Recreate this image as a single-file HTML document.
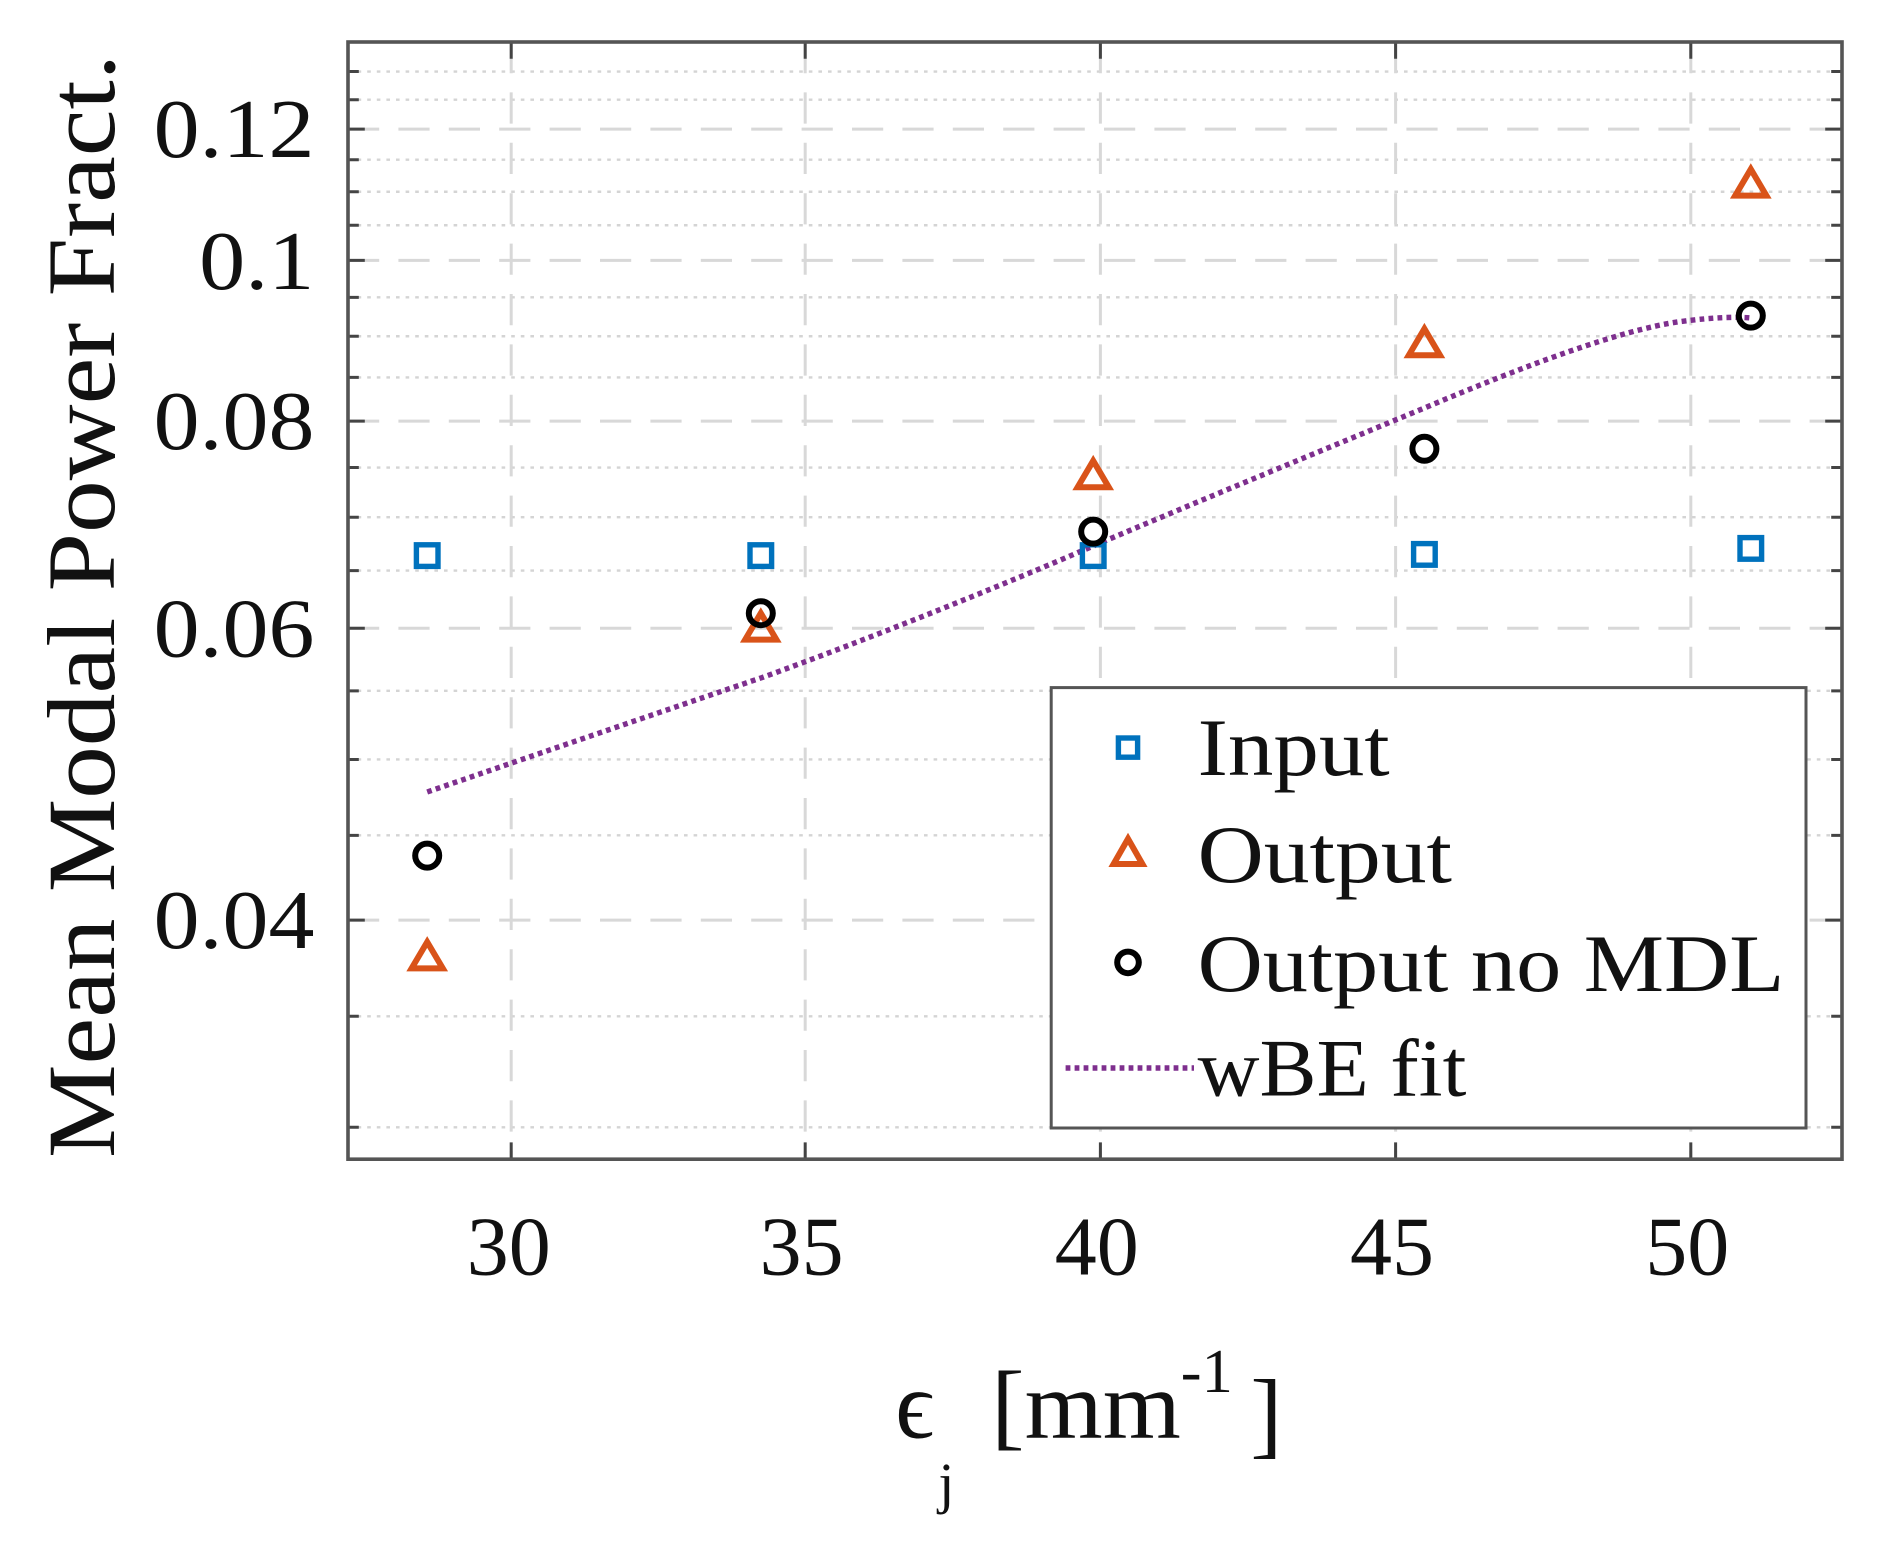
<!DOCTYPE html>
<html><head><style>html,body{margin:0;padding:0;background:#fff}svg{display:block}</style></head>
<body>
<svg width="1878" height="1551" viewBox="0 0 1565 1292.5" xmlns="http://www.w3.org/2000/svg" font-family="'Liberation Serif', serif">
<rect width="1565" height="1293" fill="#fff"/>
<g stroke="#d4d4d4" stroke-width="2" stroke-dasharray="3,5">
<line x1="290" x2="1535" y1="939.4" y2="939.4"/><line x1="290" x2="1535" y1="846.9" y2="846.9"/>
<line x1="290" x2="1535" y1="696.1" y2="696.1"/><line x1="290" x2="1535" y1="632.9" y2="632.9"/>
<line x1="290" x2="1535" y1="575.7" y2="575.7"/><line x1="290" x2="1535" y1="475.5" y2="475.5"/>
<line x1="290" x2="1535" y1="431" y2="431"/><line x1="290" x2="1535" y1="389.6" y2="389.6"/>
<line x1="290" x2="1535" y1="314.5" y2="314.5"/><line x1="290" x2="1535" y1="280.2" y2="280.2"/>
<line x1="290" x2="1535" y1="247.8" y2="247.8"/><line x1="290" x2="1535" y1="187.7" y2="187.7"/>
<line x1="290" x2="1535" y1="159.8" y2="159.8"/><line x1="290" x2="1535" y1="133.1" y2="133.1"/>
<line x1="290" x2="1535" y1="83.1" y2="83.1"/><line x1="290" x2="1535" y1="59.6" y2="59.6"/>
</g>
<g stroke="#d8d8d8" stroke-width="2.5" stroke-dasharray="26,16">
<line x1="290" x2="1535" y1="766.8" y2="766.8"/><line x1="290" x2="1535" y1="523.5" y2="523.5"/>
<line x1="290" x2="1535" y1="350.9" y2="350.9"/><line x1="290" x2="1535" y1="217" y2="217"/>
<line x1="290" x2="1535" y1="107.6" y2="107.6"/>
<line x1="426" x2="426" y1="35" y2="966"/><line x1="671" x2="671" y1="35" y2="966"/>
<line x1="917" x2="917" y1="35" y2="966"/><line x1="1163" x2="1163" y1="35" y2="966"/>
<line x1="1409" x2="1409" y1="35" y2="966"/>
</g>
<g stroke="#444" stroke-width="2.5">
<path d="M290,939.4h9M290,846.9h9M290,696.1h9M290,632.9h9M290,575.7h9M290,475.5h9M290,431h9M290,389.6h9M290,314.5h9M290,280.2h9M290,247.8h9M290,187.7h9M290,159.8h9M290,133.1h9M290,83.1h9M290,59.6h9"/>
<path d="M1535,939.4h-9M1535,846.9h-9M1535,696.1h-9M1535,632.9h-9M1535,575.7h-9M1535,475.5h-9M1535,431h-9M1535,389.6h-9M1535,314.5h-9M1535,280.2h-9M1535,247.8h-9M1535,187.7h-9M1535,159.8h-9M1535,133.1h-9M1535,83.1h-9M1535,59.6h-9"/>
<path d="M290,766.8h14M290,523.5h14M290,350.9h14M290,217h14M290,107.6h14M1535,766.8h-14M1535,523.5h-14M1535,350.9h-14M1535,217h-14M1535,107.6h-14"/>
<path d="M426,966v-14M671,966v-14M917,966v-14M1163,966v-14M1409,966v-14M426,35v14M671,35v14M917,35v14M1163,35v14M1409,35v14"/>
</g>
<rect x="290" y="35" width="1245" height="931" fill="none" stroke="#555" stroke-width="3"/>
<path d="M356,660 C420,638 560,590 634,565 C720,534 830,490 911,455 C1000,417 1110,372 1187,340 C1270,305 1350,275 1400,268 C1430,264 1450,264 1459,265" fill="none" stroke="#7e2f8e" stroke-width="4.5" stroke-dasharray="4,3.5"/>
<g fill="none" stroke="#0072bd" stroke-width="4.5">
<rect x="347" y="454" width="18" height="18"/><rect x="625" y="454" width="18" height="18"/>
<rect x="902" y="454" width="18" height="18"/><rect x="1178" y="453" width="18" height="18"/>
<rect x="1450" y="448" width="18" height="18"/>
</g>
<g fill="none" stroke="#d95319" stroke-width="5" stroke-linejoin="miter">
<path d="M356,785 L369,807 L343,807Z"/><path d="M634,511 L647,533 L621,533Z"/>
<path d="M911,384 L924,406 L898,406Z"/><path d="M1187,274 L1200,296 L1174,296Z"/>
<path d="M1459,141 L1472,163 L1446,163Z"/>
</g>
<g fill="none" stroke="#000" stroke-width="5">
<circle cx="356" cy="713" r="10"/><circle cx="634" cy="511" r="10"/>
<circle cx="911" cy="443" r="10"/><circle cx="1187" cy="374" r="10"/>
<circle cx="1459" cy="263" r="10"/>
</g>
<rect x="876" y="573" width="629" height="367" fill="#fff" stroke="#555" stroke-width="2.5"/>
<rect x="932" y="615" width="16" height="16" fill="none" stroke="#0072bd" stroke-width="4.5"/>
<path d="M940,699 L952,720 L928,720Z" fill="none" stroke="#d95319" stroke-width="5"/>
<circle cx="940" cy="802" r="9" fill="none" stroke="#000" stroke-width="5"/>
<line x1="888" x2="995" y1="890" y2="890" stroke="#7e2f8e" stroke-width="4.5" stroke-dasharray="4,3.5"/>
<g font-size="68" fill="#111">
<text x="998" y="646" textLength="160" lengthAdjust="spacingAndGlyphs">Input</text>
<text x="998" y="735" textLength="212" lengthAdjust="spacingAndGlyphs">Output</text>
<text x="998" y="826" textLength="489" lengthAdjust="spacingAndGlyphs">Output no MDL</text>
<text x="998" y="913" textLength="224" lengthAdjust="spacingAndGlyphs">wBE fit</text>
</g>
<g font-size="70" fill="#111" text-anchor="end">
<text x="262" y="131" textLength="134" lengthAdjust="spacingAndGlyphs">0.12</text>
<text x="262" y="241" textLength="96" lengthAdjust="spacingAndGlyphs">0.1</text>
<text x="262" y="374" textLength="134" lengthAdjust="spacingAndGlyphs">0.08</text>
<text x="262" y="547" textLength="134" lengthAdjust="spacingAndGlyphs">0.06</text>
<text x="262" y="790" textLength="134" lengthAdjust="spacingAndGlyphs">0.04</text>
</g>
<g font-size="70" fill="#111" text-anchor="middle">
<text x="424" y="1062">30</text><text x="668" y="1062">35</text>
<text x="914" y="1062">40</text><text x="1160" y="1062">45</text>
<text x="1406" y="1062">50</text>
</g>
<text transform="translate(95,505) rotate(-90)" font-size="80" fill="#111" text-anchor="middle" textLength="920" lengthAdjust="spacingAndGlyphs">Mean Modal Power Fract.</text>
<g font-size="80" fill="#111">
<text x="746" y="1198">ϵ</text>
<text x="782" y="1252" font-size="48">j</text>
<text x="826" y="1198" textLength="158" lengthAdjust="spacingAndGlyphs">[mm</text>
<text x="984" y="1160" font-size="52">-1</text>
<text x="1042" y="1205">]</text>
</g>
</svg>
</body></html>
